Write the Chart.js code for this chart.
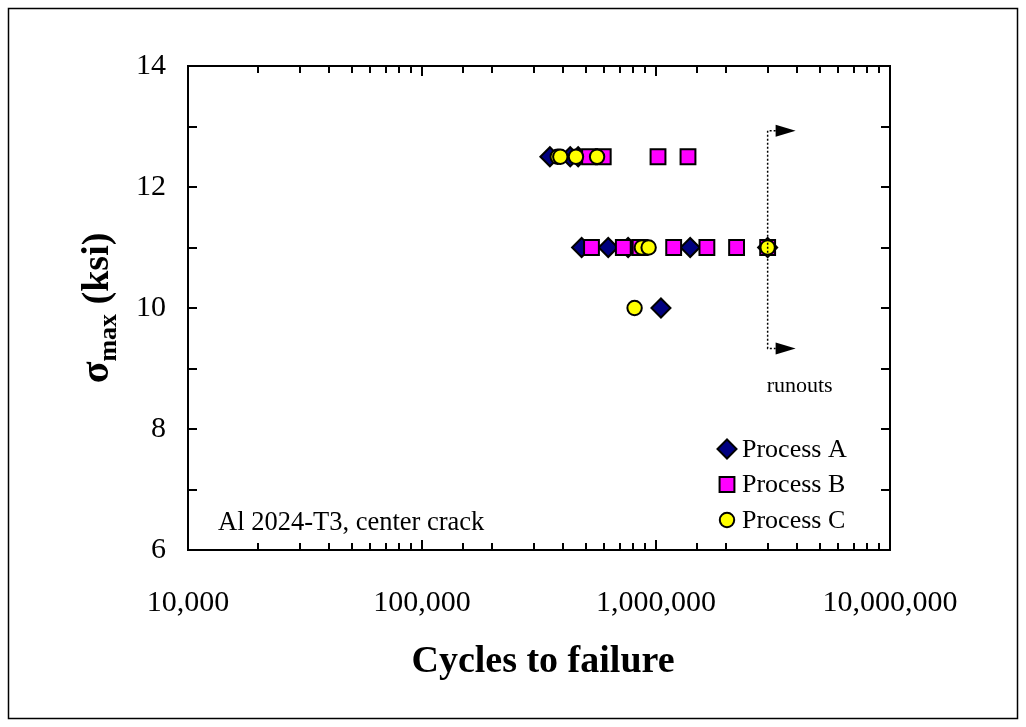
<!DOCTYPE html>
<html><head><meta charset="utf-8">
<script src="https://cdn.jsdelivr.net/npm/chart.js@4/dist/chart.umd.min.js"></script>
<style>html,body{margin:0;padding:0;background:#fff}#wrap{width:1026px;height:727px}</style>
</head><body><div id="wrap"><canvas id="c" width="1026" height="727"></canvas></div>
<script>
// ---- data ----
const seriesNames = ['Process A', 'Process B', 'Process C'];
const xTickLabels = [10000, 100000, 1000000, 10000000];
const yTickLabels = [6, 8, 10, 12, 14];

const processA_cycles = [352000, 430000, 465000, 481000, 625000, 760000, 1400000, 3000000, 1050000];
const processA_stress = [12.5, 12.5, 12.5, 11, 11, 11, 11, 11, 10];

const processB_cycles = [520000, 595000, 1020000, 1370000, 530000, 725000, 855000, 1190000, 1650000, 2210000, 3000000];
const processB_stress = [12.5, 12.5, 12.5, 12.5, 11, 11, 11, 11, 11, 11, 11];

const processC_cycles = [380000, 390000, 455000, 560000, 870000, 930000, 3000000, 810000];
const processC_stress = [12.5, 12.5, 12.5, 12.5, 11, 11, 11, 10];

const runoutCycles = 3000000;
const runoutStressTop = 12.93;
const runoutStressBottom = 9.33;
const runoutLabel = 'runouts';
const noteText = 'Al 2024-T3, center crack';
const xTitle = 'Cycles to failure';

const SERIF = '"Liberation Serif", "Times New Roman", serif';
const toPts = (xs, ys) => xs.map((x, i) => ({x: x, y: ys[i]}));

const styles = [
  {pointStyle: 'rectRot', radius: 9.5, bg: '#000080'},
  {pointStyle: 'rect', radius: 10.5, bg: '#FF00FF'},
  {pointStyle: 'circle', radius: 7.2, bg: '#FFFF00'}
];
const seriesData = [
  toPts(processA_cycles, processA_stress),
  toPts(processB_cycles, processB_stress),
  toPts(processC_cycles, processC_stress)
];

const isPow10 = v => Math.abs(Math.log10(v) - Math.round(Math.log10(v))) < 1e-9;

const decor = {
  id: 'decor',
  afterDraw(chart) {
    const ctx = chart.ctx;
    const a = chart.chartArea;
    const xs = chart.scales.x, ys = chart.scales.y;
    ctx.save();
    // outer border
    ctx.strokeStyle = '#000'; ctx.lineWidth = 1.5;
    ctx.strokeRect(8.5, 8.5, 1009, 710);
    // plot frame
    ctx.lineWidth = 2;
    ctx.strokeRect(a.left, a.top, a.right - a.left, a.bottom - a.top);
    // y ticks (inward, both sides)
    ys.ticks.forEach(t => {
      const py = Math.round(ys.getPixelForValue(t.value));
      ctx.beginPath();
      ctx.moveTo(a.left, py); ctx.lineTo(a.left + 9, py);
      ctx.moveTo(a.right, py); ctx.lineTo(a.right - 9, py);
      ctx.stroke();
    });
    // x ticks (inward, top and bottom)
    xs.ticks.forEach(t => {
      const px = Math.round(xs.getPixelForValue(t.value));
      const len = isPow10(t.value) ? 10 : 7;
      ctx.beginPath();
      ctx.moveTo(px, a.bottom); ctx.lineTo(px, a.bottom - len);
      ctx.moveTo(px, a.top); ctx.lineTo(px, a.top + len);
      ctx.stroke();
    });
    // runout bracket
    const rx = xs.getPixelForValue(runoutCycles);
    const ry1 = ys.getPixelForValue(runoutStressTop);
    const ry2 = ys.getPixelForValue(runoutStressBottom);
    ctx.setLineDash([2, 2]);
    ctx.lineWidth = 1.5;
    ctx.beginPath();
    ctx.moveTo(rx + 8, ry1); ctx.lineTo(rx, ry1); ctx.lineTo(rx, ry2); ctx.lineTo(rx + 8, ry2);
    ctx.stroke();
    ctx.setLineDash([]);
    ctx.fillStyle = '#000';
    [ry1, ry2].forEach(yy => {
      ctx.beginPath();
      ctx.moveTo(rx + 8, yy - 6); ctx.lineTo(rx + 28, yy); ctx.lineTo(rx + 8, yy + 6);
      ctx.closePath(); ctx.fill();
    });
    ctx.font = '22px ' + SERIF;
    ctx.textAlign = 'center'; ctx.textBaseline = 'alphabetic';
    ctx.fillText(runoutLabel, rx + 32, ry2 + 43);
    // note
    ctx.font = '26.5px ' + SERIF;
    ctx.textAlign = 'left';
    ctx.fillText(noteText, a.left + 30, a.bottom - 20);
    // legend
    ctx.font = '26px ' + SERIF;
    ctx.textBaseline = 'middle';
    seriesNames.forEach((name, i) => {
      const ly = a.bottom - 101 + i * 35.5;
      const lx = a.right - 163;
      const st = styles[i];
      ctx.fillStyle = st.bg; ctx.strokeStyle = '#000'; ctx.lineWidth = 2;
      ctx.beginPath();
      if (st.pointStyle === 'rectRot') {
        ctx.moveTo(lx - st.radius, ly); ctx.lineTo(lx, ly - st.radius);
        ctx.lineTo(lx + st.radius, ly); ctx.lineTo(lx, ly + st.radius); ctx.closePath();
      } else if (st.pointStyle === 'rect') {
        const h = st.radius * Math.SQRT1_2;
        ctx.rect(lx - h, ly - h, 2 * h, 2 * h);
      } else {
        ctx.arc(lx, ly, st.radius, 0, Math.PI * 2);
      }
      ctx.fill(); ctx.stroke();
      ctx.fillStyle = '#000';
      ctx.fillText(name, lx + 15, ly + 1);
    });
    // x title
    ctx.font = 'bold 38px ' + SERIF;
    ctx.textAlign = 'center'; ctx.textBaseline = 'alphabetic';
    ctx.fillText(xTitle, (a.left + a.right) / 2 + 4, 672);
    // y title: sigma_max (ksi)
    ctx.translate(108, (a.top + a.bottom) / 2);
    ctx.rotate(-Math.PI / 2);
    ctx.textAlign = 'left';
    const f1 = 'bold 40px ' + SERIF, f2 = 'bold 26px ' + SERIF, f3 = 'bold 38px ' + SERIF;
    ctx.font = f1; const w1 = ctx.measureText('σ').width;
    ctx.font = f2; const w2 = ctx.measureText('max').width;
    ctx.font = f3; const w3 = ctx.measureText(' (ksi)').width;
    let sx = -(w1 + w2 + w3) / 2;
    ctx.font = f1; ctx.fillText('σ', sx, 0); sx += w1;
    ctx.font = f2; ctx.fillText('max', sx, 8); sx += w2;
    ctx.font = f3; ctx.fillText(' (ksi)', sx, 0);
    ctx.restore();
  }
};

new Chart(document.getElementById('c'), {
  type: 'scatter',
  data: {
    datasets: seriesData.map((d, i) => ({
      label: seriesNames[i],
      data: d,
      order: 3 - i,
      pointStyle: styles[i].pointStyle,
      pointRadius: styles[i].radius,
      pointHoverRadius: styles[i].radius,
      backgroundColor: styles[i].bg,
      borderColor: '#000',
      borderWidth: 2,
      showLine: false
    }))
  },
  options: {
    responsive: false,
    animation: false,
    devicePixelRatio: 1,
    layout: {padding: {top: 66, right: 136, bottom: 0, left: 0}},
    plugins: {legend: {display: false}, tooltip: {enabled: false}},
    scales: {
      x: {
        type: 'logarithmic', min: 10000, max: 10000000,
        grid: {display: false, drawTicks: false},
        border: {display: false},
        afterFit: s => { s.height = 177; },
        ticks: {
          autoSkip: false, maxRotation: 0, minRotation: 0, padding: 35,
          color: '#000', font: {family: SERIF, size: 30},
          callback: v => (isPow10(v) && xTickLabels.includes(Math.round(v))) ? Math.round(v).toLocaleString('en-US') : ''
        }
      },
      y: {
        min: 6, max: 14,
        grid: {display: false, drawTicks: false},
        border: {display: false},
        afterFit: s => { s.width = 188; },
        ticks: {
          stepSize: 1, padding: 22,
          color: '#000', font: {family: SERIF, size: 30},
          callback: v => yTickLabels.includes(v) ? String(v) : ''
        }
      }
    }
  },
  plugins: [decor]
});
</script>
</body></html>
